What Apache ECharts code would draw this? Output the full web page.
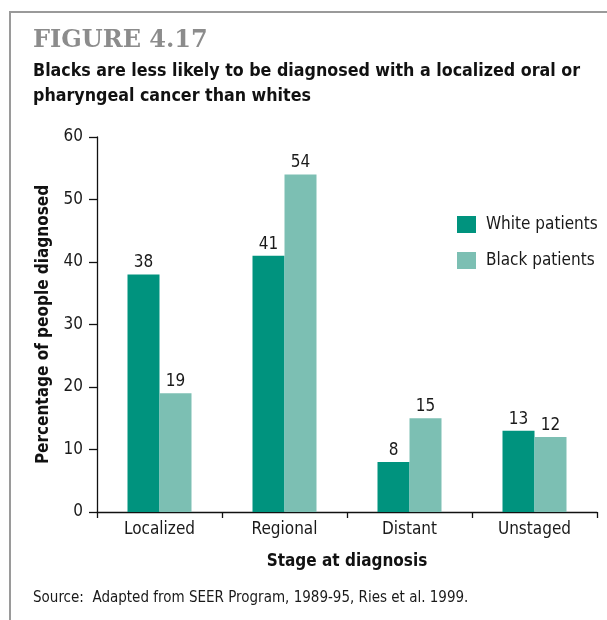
<!DOCTYPE html>
<html>
<head>
<meta charset="utf-8">
<script src="https://cdn.jsdelivr.net/npm/echarts@6/dist/echarts.min.js"></script>
<style>
html,body{margin:0;padding:0;background:#fff;}
#chart{width:607px;height:620px;}
</style>
</head>
<body>
<div id="chart"></div>
<script>
var categories = ['Localized', 'Regional', 'Distant', 'Unstaged'];
var seriesNames = ['White patients', 'Black patients'];
var whitePatients = [38, 41, 8, 13];
var blackPatients = [19, 54, 15, 12];
var yTicks = [0, 10, 20, 30, 40, 50, 60];

var figureLabel = 'FIGURE 4.17';
var titleLines = ['Blacks are less likely to be diagnosed with a localized oral or', 'pharyngeal cancer than whites'];
var yAxisTitle = 'Percentage of people diagnosed';
var xAxisTitle = 'Stage at diagnosis';
var sourceText = 'Source:  Adapted from SEER Program, 1989-95, Ries et al. 1999.';

var COND = '"DejaVu Sans Condensed", "Liberation Sans Narrow", "Roboto", sans-serif';
var DARK = '#00937e';
var LIGHT = '#7cbfb3';
var INK = '#1a1a1a';

var chart = echarts.init(document.getElementById('chart'), null, {renderer: 'canvas'});
var option = {
  backgroundColor: '#ffffff',
  animation: false,
  graphic: [
    {type: 'line', shape: {x1: 9, y1: 12, x2: 607, y2: 12}, style: {stroke: '#9a9a9a', lineWidth: 2}},
    {type: 'line', shape: {x1: 10, y1: 11, x2: 10, y2: 620}, style: {stroke: '#9a9a9a', lineWidth: 2}},
    {type: 'text', left: 33, top: 29, style: {text: figureLabel, font: 'bold 24px "DejaVu Serif", "Liberation Serif", serif', fill: '#8c8c8c'}},
    {type: 'text', left: 33, top: 62, style: {text: titleLines[0], font: 'bold 17.7px ' + COND, fill: '#111'}},
    {type: 'text', left: 33, top: 87, style: {text: titleLines[1], font: 'bold 17.7px ' + COND, fill: '#111'}},
    {type: 'text', left: 33, top: 591, style: {text: sourceText, font: '15px ' + COND, fill: INK}}
  ],
  legend: {
    orient: 'vertical',
    left: 457,
    top: 216,
    padding: 0,
    itemWidth: 19,
    itemHeight: 17,
    itemGap: 19,
    icon: 'rect',
    data: seriesNames,
    textStyle: {fontFamily: COND, fontSize: 17, color: INK, padding: [0, 0, 0, 5]}
  },
  grid: {left: 97, right: 10, top: 137, bottom: 108, containLabel: false, outerBoundsMode: 'none'},
  xAxis: {
    type: 'category',
    data: categories,
    name: xAxisTitle,
    nameLocation: 'middle',
    nameGap: 41,
    nameTextStyle: {fontFamily: COND, fontSize: 17, fontWeight: 'bold', color: '#111'},
    axisLine: {show: true, lineStyle: {color: '#111', width: 1.3}},
    axisTick: {show: true, length: 6, alignWithLabel: false, lineStyle: {color: '#111', width: 1.3}},
    axisLabel: {margin: 9, fontFamily: COND, fontSize: 17, color: INK},
    splitLine: {show: false}
  },
  yAxis: {
    type: 'value',
    min: yTicks[0],
    max: yTicks[yTicks.length - 1],
    interval: 10,
    name: yAxisTitle,
    nameLocation: 'middle',
    nameGap: 45,
    nameRotate: 90,
    nameTextStyle: {fontFamily: COND, fontSize: 17, fontWeight: 'bold', color: '#111'},
    axisLine: {show: true, lineStyle: {color: '#111', width: 1.3}},
    axisTick: {show: true, length: 8, lineStyle: {color: '#111', width: 1.3}},
    axisLabel: {margin: 14, fontFamily: COND, fontSize: 17, color: INK},
    splitLine: {show: false}
  },
  series: [
    {
      name: seriesNames[0], type: 'bar', data: whitePatients, barWidth: 32, barGap: '0%',
      itemStyle: {color: DARK},
      label: {show: true, position: 'top', distance: 3, fontFamily: COND, fontSize: 17, color: INK}
    },
    {
      name: seriesNames[1], type: 'bar', data: blackPatients, barWidth: 32, barGap: '0%',
      itemStyle: {color: LIGHT},
      label: {show: true, position: 'top', distance: 3, fontFamily: COND, fontSize: 17, color: INK}
    }
  ]
};
chart.setOption(option);
</script>
</body>
</html>
